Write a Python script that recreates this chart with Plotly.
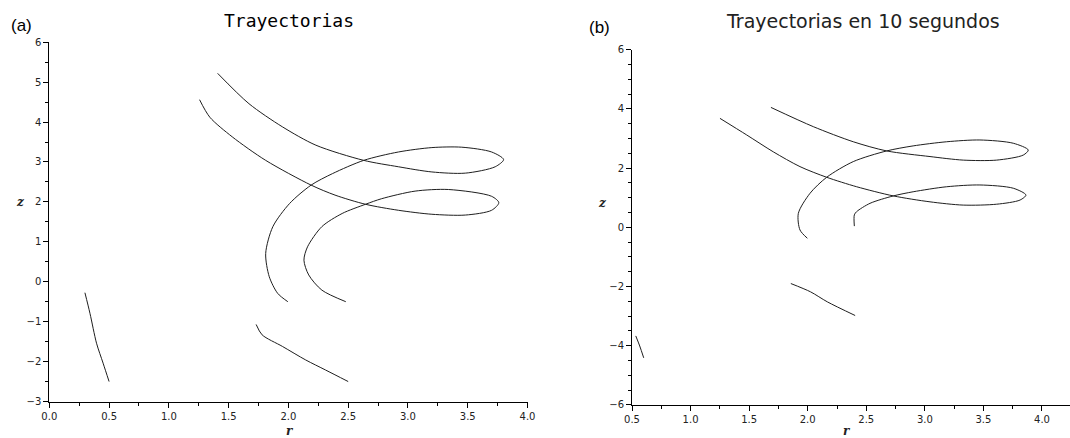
import plotly.graph_objects as go

# ---------------- data (panel a) ----------------
a_r1 = [1.408, 1.67, 1.95, 2.23, 2.63, 2.92, 3.2, 3.48, 3.73, 3.80, 3.70, 3.45, 3.2, 2.92, 2.63,
        2.37, 2.19, 2.01, 1.87, 1.81, 1.84, 1.91, 1.995]
a_z1 = [5.22, 4.46, 3.88, 3.42, 3.04, 2.88, 2.75, 2.72, 2.88, 3.06, 3.25, 3.37, 3.36, 3.25, 3.04,
        2.71, 2.42, 1.96, 1.38, 0.71, 0.125, -0.29, -0.5]
a_r2 = [1.257, 1.343, 1.53, 1.81, 2.19, 2.39, 2.645, 2.92, 3.2, 3.48, 3.70, 3.76, 3.70, 3.34, 3.06,
        2.78, 2.645, 2.45, 2.28, 2.16, 2.13, 2.17, 2.28, 2.48]
a_z2 = [4.56, 4.12, 3.63, 3.04, 2.42, 2.17, 1.94, 1.79, 1.69, 1.67, 1.79, 1.98, 2.14, 2.31, 2.27,
        2.08, 1.94, 1.71, 1.38, 0.875, 0.54, 0.17, -0.21, -0.5]
a_r3 = [0.298, 0.34, 0.395, 0.45, 0.5]
a_z3 = [-0.275, -0.79, -1.54, -2.04, -2.5]
a_r4 = [1.73, 1.78, 1.95, 2.145, 2.31, 2.5]
a_z4 = [-1.07, -1.33, -1.62, -1.96, -2.21, -2.5]

# ---------------- data (panel b) ----------------
b_r1 = [1.686, 2.048, 2.389, 2.674, 3.044, 3.328, 3.613, 3.84, 3.883, 3.755, 3.47, 3.186, 2.90, 2.674,
        2.389, 2.162, 2.02, 1.92, 1.934, 1.997]
b_z1 = [4.05, 3.40, 2.89, 2.58, 2.39, 2.27, 2.27, 2.44, 2.61, 2.84, 2.95, 2.89, 2.75, 2.58,
        2.22, 1.69, 1.15, 0.47, -0.09, -0.37]
b_r2 = [1.251, 1.479, 1.706, 1.934, 2.162, 2.418, 2.731, 3.044, 3.328, 3.613, 3.812, 3.863, 3.755,
        3.47, 3.186, 2.90, 2.731, 2.532, 2.418, 2.398, 2.398]
b_z2 = [3.68, 3.12, 2.55, 2.05, 1.69, 1.37, 1.06, 0.86, 0.75, 0.78, 0.92, 1.09, 1.32,
        1.43, 1.37, 1.20, 1.06, 0.81, 0.53, 0.42, 0.04]
b_r3 = [0.532, 0.566, 0.60]
b_z3 = [-3.67, -4.01, -4.41]
b_r4 = [1.856, 2.024, 2.168, 2.405]
b_z4 = [-1.90, -2.18, -2.52, -2.98]

panel_a = [(a_r1, a_z1), (a_r2, a_z2), (a_r3, a_z3), (a_r4, a_z4)]
panel_b = [(b_r1, b_z1), (b_r2, b_z2), (b_r3, b_z3), (b_r4, b_z4)]

title_a = "Trayectorias"
title_b = "Trayectorias en 10 segundos"

fig = go.Figure()
line_style = dict(color="#1e1e1e", width=1, shape="spline", smoothing=0.8)
for r, z in panel_a:
    fig.add_trace(go.Scatter(x=r, y=z, mode="lines", line=line_style, xaxis="x", yaxis="y",
                             showlegend=False, hoverinfo="skip"))
for r, z in panel_b:
    fig.add_trace(go.Scatter(x=r, y=z, mode="lines", line=line_style, xaxis="x2", yaxis="y2",
                             showlegend=False, hoverinfo="skip"))

W, H = 1070, 438
tickfont = dict(family="DejaVu Sans", size=10, color="#222")
common = dict(showline=True, linecolor="black", linewidth=1, ticks="outside", tickcolor="black",
              ticklen=5, tickwidth=1, showgrid=False, zeroline=False, tickfont=tickfont,
              automargin=False)

fig.update_layout(
    width=W, height=H, margin=dict(l=0, r=0, t=0, b=0, autoexpand=False),
    paper_bgcolor="white", plot_bgcolor="white",
    xaxis=dict(domain=[49.3 / W, 527.5 / W], range=[0, 4], tick0=0, dtick=0.5, tickformat=".1f",
               anchor="y", minor=dict(dtick=0.25, ticks="outside", ticklen=3, tickcolor="black"), **common),
    yaxis=dict(domain=[1 - 401.5 / H, 1 - 42.2 / H], range=[-3, 6], tick0=0, dtick=1,
               anchor="x", minor=dict(dtick=0.5, ticks="outside", ticklen=3, tickcolor="black"), **common),
    xaxis2=dict(domain=[632 / W, 1.0], range=[0.5, 0.5 + (W - 632) / 117.14], tick0=0.5, dtick=0.5,
                tickformat=".1f", anchor="y2",
                minor=dict(dtick=0.25, ticks="outside", ticklen=3, tickcolor="black"), **common),
    yaxis2=dict(domain=[1 - 404.9 / H, 1 - 49.7 / H], range=[-6, 6], tick0=0, dtick=2,
                anchor="x2", minor=dict(dtick=0.5, ticks="outside", ticklen=3, tickcolor="black"), **common),
)

def ann(text, px, py, font):
    fig.add_annotation(text=text, x=px / W, y=1 - py / H, xref="paper", yref="paper",
                       showarrow=False, xanchor="center", yanchor="middle", font=font)

ann(title_a, 289, 20, dict(family="DejaVu Sans Mono", size=18, color="black"))
ann(title_b, 863, 21, dict(family="DejaVu Sans", size=19, color="#222"))
ann("(a)", 21.5, 25.5, dict(family="Liberation Sans", size=17, color="black"))
ann("(b)", 599, 27, dict(family="Liberation Sans", size=17, color="black"))
lab = dict(family="DejaVu Serif", size=12, color="#222")
ann("<b><i>r</i></b>", 290, 431, lab)
ann("<b><i>r</i></b>", 847, 431, lab)
ann("<b><i>z</i></b>", 20, 202, lab)
ann("<b><i>z</i></b>", 602, 203, lab)

fig.write_html("out.html", config={"displayModeBar": False},
               post_script="document.body.style.margin='0px';document.body.style.overflow='hidden';")
